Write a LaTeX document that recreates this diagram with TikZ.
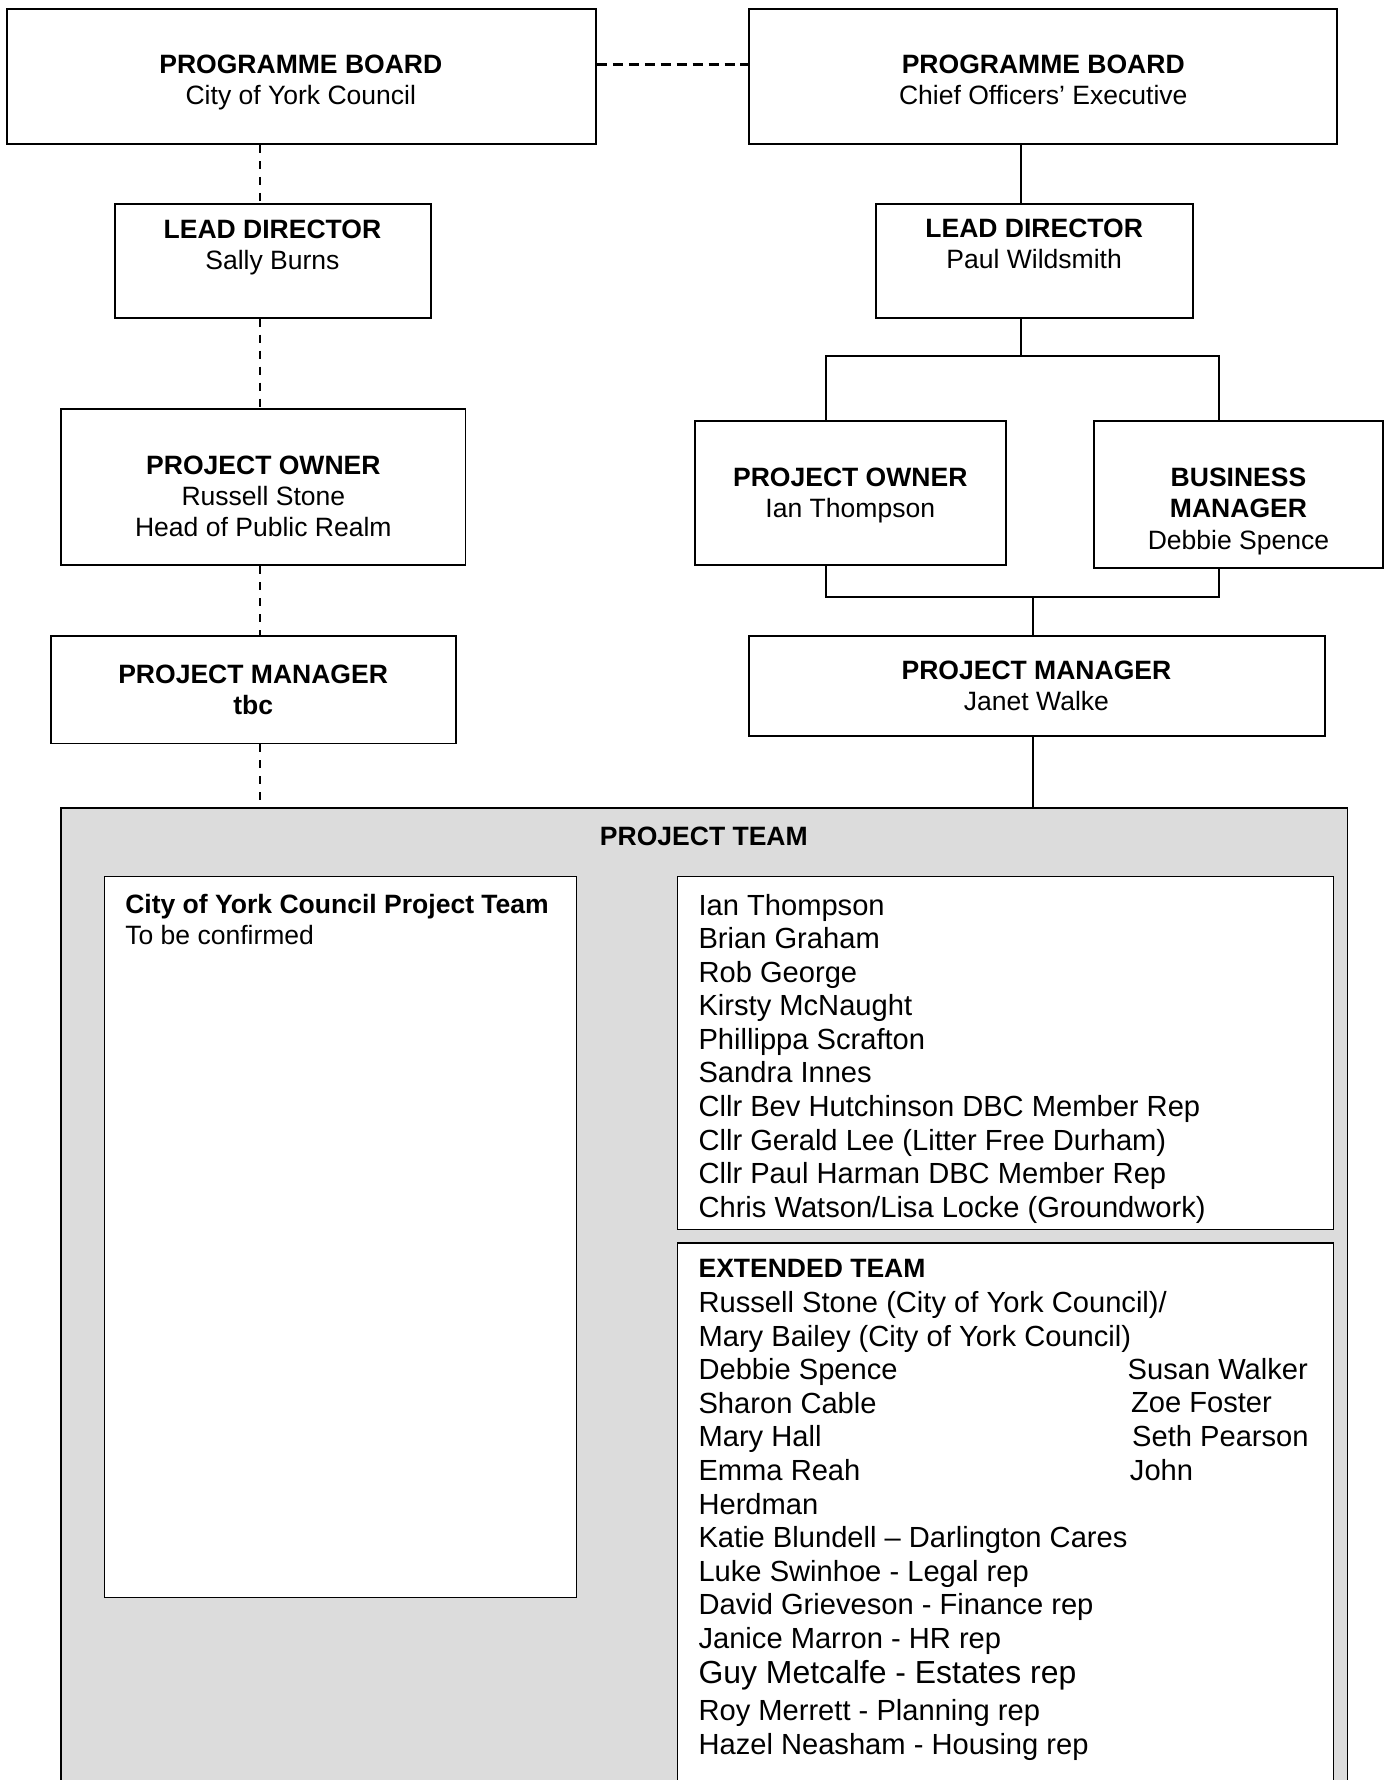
\documentclass[tikz,border=0pt]{standalone}
\usepackage{fontspec}
\setmainfont{Liberation Sans}
\usetikzlibrary{fit}
\definecolor{teamgray}{RGB}{220,220,220}
\newcommand{\orgboxfont}{\fontsize{13.3}{15.6}\selectfont}
\newcommand{\orglistfont}{\fontsize{14.6}{16.8}\selectfont}

\begin{document}
\begin{tikzpicture}[x=0.02cm, y=-0.02cm,
  orgbox/.style={draw, line width=0.9pt, fill=white, inner sep=0pt},
  teambox/.style={draw, line width=0.6pt, fill=white, inner sep=0pt},
  orgtxt/.style={inner sep=0pt, align=center, font=\orgboxfont},
  solidlink/.style={line width=1pt},
  dashlink/.style={line width=1pt, dash pattern=on 4pt off 4pt},
  listtxt/.style={inner sep=0pt, anchor=base west, font=\orglistfont}]
\clip (0,0) rectangle (1226,1568);

% Project team panel
\node[draw, line width=0.9pt, fill=teamgray, inner sep=0pt, fit={(54,712) (1187,1600)}] (team) {};
\node[orgtxt] (teamt) at (620,737) {\textbf{PROJECT TEAM}};
\node[teambox, fit={(92,772) (508,1407)}] (cyc) {};
\node[inner sep=0pt, anchor=north west, align=left, font=\orgboxfont] (cyct) at (110,787.5)
  {\textbf{City of York Council Project Team}\\To be confirmed};
\node[teambox, fit={(597,772) (1175,1083)}] (core) {};
\node[teambox, fit={(597,1095) (1175,1600)}] (ext) {};

% Core team list
\foreach \name [count=\i from 0] in {Ian Thompson, Brian Graham, Rob George,
    Kirsty McNaught, Phillippa Scrafton, Sandra Innes,
    Cllr Bev Hutchinson DBC Member Rep, Cllr Gerald Lee (Litter Free Durham),
    Cllr Paul Harman DBC Member Rep, {Chris Watson/Lisa Locke (Groundwork)}} {
    \node[listtxt] (core\i) at (615,{806.2+29.56*\i}) {\name};
}

% Extended team list
\node[listtxt, font=\orgboxfont] (extt) at (615,1125.4) {\textbf{EXTENDED TEAM}};
\foreach \name [count=\i from 0] in {{Russell Stone (City of York Council)/},
    Mary Bailey (City of York Council), Debbie Spence, Sharon Cable, Mary Hall,
    Emma Reah, Herdman, Katie Blundell -- Darlington Cares, Luke Swinhoe - Legal rep,
    David Grieveson - Finance rep, Janice Marron - HR rep} {
    \node[listtxt] (ext\i) at (615,{1156.2+29.6*\i}) {\name};
}
\node[listtxt, font=\fontsize{16}{18}\selectfont] (ext11) at (615,1483) {Guy Metcalfe - Estates rep};
\node[listtxt] (ext12) at (615,1515.2) {Roy Merrett - Planning rep};
\node[listtxt] (ext13) at (615,1545.2) {Hazel Neasham - Housing rep};
\node[listtxt] (extr0) at (993,1215.2) {Susan Walker};
\node[listtxt] (extr1) at (996,1244.2) {Zoe Foster};
\node[listtxt] (extr2) at (997,1274.2) {Seth Pearson};
\node[listtxt] (extr3) at (995,1304.2) {John};

% City of York Council side
\node[orgbox, fit={(6,8) (525,127)}] (pbl) {};
\node[orgtxt] (pblt) at (265,73) {\textbf{PROGRAMME BOARD}\\City of York Council};
\node[orgbox, fit={(101,180) (380,280)}] (ldl) {};
\node[orgtxt] (ldlt) at (240,218) {\textbf{LEAD DIRECTOR}\\Sally Burns};
\node[orgbox, fit={(54,360) (410,498)}] (pol) {};
\node[orgtxt] (polt) at (232,437) {\textbf{PROJECT OWNER}\\Russell Stone\\Head of Public Realm};
\node[orgbox, fit={(45,560) (402,655)}] (pml) {};
\node[orgtxt] (pmlt) at (223,608) {\textbf{PROJECT MANAGER}\\\textbf{tbc}};

% Chief Officers side
\node[orgbox, fit={(660,8) (1178,127)}] (pbr) {};
\node[orgtxt] (pbrt) at (919,70) {\textbf{PROGRAMME BOARD}\\Chief Officers' Executive};
\node[orgbox, fit={(772,180) (1051,280)}] (ldr) {};
\node[orgtxt] (ldrt) at (911,215) {\textbf{LEAD DIRECTOR}\\Paul Wildsmith};
\node[orgbox, fit={(612,371) (886,498)}] (por) {};
\node[orgtxt] (port) at (749,436.5) {\textbf{PROJECT OWNER}\\Ian Thompson};
\node[orgbox, fit={(964,371) (1218,500)}] (bm) {};
\node[orgtxt] (bmt) at (1091,450.5) {\textbf{BUSINESS}\\\textbf{MANAGER}\\Debbie Spence};
\node[orgbox, fit={(660,560) (1167,648)}] (pmr) {};
\node[orgtxt] (pmrt) at (913,604) {\textbf{PROJECT MANAGER}\\Janet Walke};

% Connectors
\coordinate (colL) at (229,0);
\coordinate (colR) at (899,0);
\coordinate (barTL) at (728,314);
\coordinate (barTR) at (1074,314);
\coordinate (barBL) at (728,526);
\coordinate (barBR) at (1074,526);
\coordinate (barMid) at (910,526);

\draw[dashlink, line width=1.4pt, dash pattern=on 5pt off 3pt] (pbl.east |- 0,57) -- (pbr.west |- 0,57);
\draw[dashlink] (pbl.south -| colL) -- (ldl.north -| colL);
\draw[dashlink] (ldl.south -| colL) -- (pol.north -| colL);
\draw[dashlink] (pol.south -| colL) -- (pml.north -| colL);
\draw[dashlink] (pml.south -| colL) -- (team.north -| colL);

\draw[solidlink] (pbr.south -| colR) -- (ldr.north -| colR);
\draw[solidlink] (ldr.south -| colR) -- (barTL -| colR);
\draw[solidlink] (por.north -| barTL) -- (barTL) -- (barTR) -- (bm.north -| barTR);
\draw[solidlink] (por.south -| barBL) -- (barBL) -- (barBR) -- (bm.south -| barBR);
\draw[solidlink] (barMid) -- (pmr.north -| barMid);
\draw[solidlink] (pmr.south -| barMid) -- (team.north -| barMid);
\end{tikzpicture}
\end{document}
